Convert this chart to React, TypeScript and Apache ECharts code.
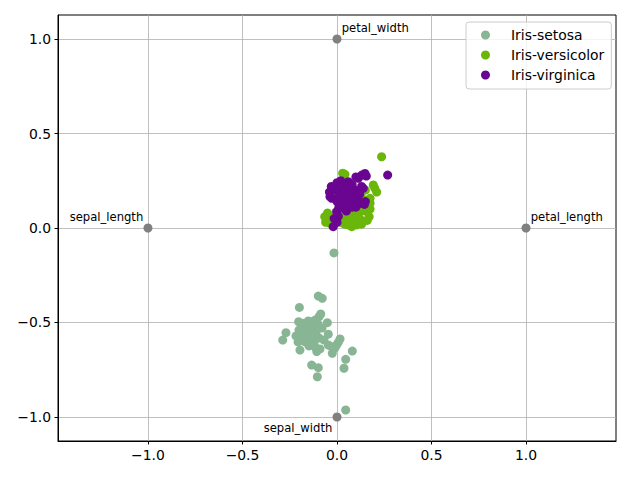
import { useEffect, useRef } from "react";
import * as echarts from "echarts";

const FONT = "DejaVu Sans";

// RadViz projection of the iris measurements
const speciesNames = ["Iris-setosa", "Iris-versicolor", "Iris-virginica"];
const speciesColors = ["#88b694", "#6ab70a", "#690590"];

const setosaPoints: number[][] = [
  [-0.016, -0.132], [-0.099, -0.36], [-0.078, -0.372], [-0.199, -0.42], [-0.086, -0.455],
  [-0.095, -0.469], [-0.051, -0.501], [-0.203, -0.496], [-0.178, -0.504], [-0.152, -0.492],
  [-0.134, -0.496], [-0.116, -0.487], [-0.27, -0.554], [-0.287, -0.593], [-0.046, -0.562],
  [0.016, -0.587], [0.007, -0.605], [-0.002, -0.619], [-0.028, -0.628], [-0.046, -0.619],
  [-0.011, -0.635], [0.081, -0.651], [0.046, -0.695], [0.037, -0.742], [-0.025, -0.663],
  [-0.196, -0.646], [-0.107, -0.654], [-0.09, -0.64], [-0.116, -0.63], [-0.134, -0.725],
  [-0.099, -0.739], [-0.104, -0.787], [0.046, -0.963], [-0.201, -0.54], [-0.185, -0.566],
  [-0.164, -0.529], [-0.148, -0.556], [-0.127, -0.529], [-0.111, -0.556], [-0.095, -0.582],
  [-0.132, -0.593], [-0.169, -0.603], [-0.206, -0.603], [-0.148, -0.624], [-0.079, -0.529],
  [-0.101, -0.508], [-0.217, -0.571], [-0.122, -0.608], [-0.069, -0.593], [-0.164, -0.582],
];

const versicolorPoints: number[][] = [
  [0.236, 0.377], [0.042, 0.284], [0.192, 0.228], [0.21, 0.19], [-0.037, 0.025],
  [-0.046, 0.042], [0.06, 0.016], [0.078, 0.007], [0.104, 0.016], [0.166, 0.095],
  [0.175, 0.131], [0.175, 0.157], [0.16, 0.085], [0.085, 0.03], [0.09, 0.06],
  [0.12, 0.05], [0.14, 0.11], [0.15, 0.145], [0.0, 0.08], [-0.01, 0.06],
  [-0.02, 0.045], [0.01, 0.1], [0.02, 0.13], [-0.011, 0.219], [0.05, 0.04],
  [0.07, 0.05], [0.11, 0.07], [0.13, 0.09], [0.04, 0.02], [0.1, 0.1],
  [0.06, 0.12], [0.08, 0.15], [0.05, 0.17], [0.12, 0.18], [0.15, 0.2],
  [0.03, 0.06], [0.07, 0.09], [0.1, 0.13], [0.13, 0.16], [0.02, 0.03],
  [-0.06, 0.03], [-0.065, 0.06], [-0.05, 0.08], [0.17, 0.06], [0.175, 0.1],
  [0.2, 0.21], [0.03, 0.29], [0.13, 0.02], [0.16, 0.04],
];

const virginicaPoints: number[][] = [
  [0.268, 0.28], [0.131, 0.28], [0.148, 0.289], [0.113, 0.263], [0.06, 0.245],
  [0.139, 0.21], [-0.028, 0.157], [-0.037, 0.166], [-0.02, 0.007], [0.007, 0.062],
  [-0.002, 0.087], [0.01, 0.11], [0.02, 0.14], [0.03, 0.18], [0.04, 0.2],
  [0.05, 0.15], [0.06, 0.12], [0.07, 0.17], [0.08, 0.19], [0.09, 0.14],
  [0.1, 0.11], [0.11, 0.16], [0.12, 0.13], [0.01, 0.17], [0.03, 0.12],
  [0.05, 0.09], [0.07, 0.13], [0.09, 0.17], [0.0, 0.14], [0.15, 0.14],
  [0.04, 0.1], [0.08, 0.11], [0.02, 0.2], [0.06, 0.21],
  [-0.03, 0.22], [0.0, 0.24], [0.02, 0.25], [0.04, 0.23], [0.08, 0.23],
  [0.1, 0.2], [0.12, 0.18], [-0.04, 0.19], [-0.01, 0.2], [0.145, 0.125],
  [0.0, 0.03], [-0.015, 0.05], [0.1, 0.27], [0.155, 0.275], [0.13, 0.22],
];

const anchorNames = ["petal_length", "petal_width", "sepal_length", "sepal_width"];
const anchorPoints: number[][] = [[1, 0], [0, 1], [-1, 0], [0, -1]];

const xRange = [-1.476, 1.476];
const yRange = [-1.127, 1.127];

const tickFormat = (v: number) => (v < 0 ? "\u2212" : "") + Math.abs(v).toFixed(1);

export default function App() {
  const ref = useRef<HTMLDivElement>(null);

  useEffect(() => {
    document.body.style.margin = "0";
    const chart = echarts.init(ref.current!, null, { renderer: "svg" });

    const axisCommon = {
      type: "value" as const,
      axisLine: { show: true, onZero: false, lineStyle: { color: "#000", width: 1 } },
      axisTick: { show: true, length: 3.5, lineStyle: { color: "#000", width: 1 } },
      axisLabel: {
        color: "#000",
        fontFamily: FONT,
        fontSize: 13.9,
        margin: 7,
        showMinLabel: false,
        showMaxLabel: false,
        formatter: tickFormat,
      },
      splitLine: {
        show: true,
        showMinLine: false,
        showMaxLine: false,
        lineStyle: { color: "#b0b0b0", width: 0.8 },
      },
    };

    const off = 9.2;
    const anchorData = anchorPoints.map((p, i) => {
      const right = p[0] > 0 || (p[0] === 0 && p[1] > 0);
      const below = p[1] < 0;
      return {
        value: p,
        name: anchorNames[i],
        label: {
          position: [right ? off : -0.2, below ? off : -0.2],
          align: right ? "left" : "right",
          verticalAlign: below ? "top" : "bottom",
        },
      };
    });

    const groups = [setosaPoints, versicolorPoints, virginicaPoints];

    chart.setOption({
      animation: false,
      backgroundColor: "#fff",
      textStyle: { fontFamily: FONT },
      grid: {
        left: 58,
        top: 15,
        width: 558,
        height: 426,
        show: true,
        borderColor: "#000",
        borderWidth: 1,
        backgroundColor: "transparent",
      },
      xAxis: { ...axisCommon, min: xRange[0], max: xRange[1], splitNumber: 6 },
      yAxis: { ...axisCommon, min: yRange[0], max: yRange[1], splitNumber: 5 },
      legend: {
        data: speciesNames,
        orient: "vertical",
        left: 466,
        top: 22,
        padding: [3, 7, 4, 15],
        itemGap: 0,
        itemWidth: 9,
        itemHeight: 9,
        icon: "circle",
        backgroundColor: "rgba(255,255,255,0.8)",
        borderColor: "#cccccc",
        borderWidth: 1,
        borderRadius: 3,
        formatter: (n: string) => `{t|${n}}`,
        textStyle: {
          fontFamily: FONT,
          fontSize: 13.9,
          color: "#000",
          lineHeight: 20,
          rich: {
            t: {
              fontFamily: FONT,
              fontSize: 13.9,
              color: "#000",
              lineHeight: 20,
              padding: [0, 0, 0, 16],
            },
          },
        },
      },
      series: [
        ...groups.map((pts, i) => ({
          type: "scatter",
          name: speciesNames[i],
          data: pts,
          symbol: "circle",
          symbolSize: 9,
          itemStyle: { color: speciesColors[i], opacity: 1 },
          z: 2 + i,
        })),
        {
          type: "scatter",
          name: "anchors",
          data: anchorData,
          symbol: "circle",
          symbolSize: 9,
          itemStyle: { color: "#808080", opacity: 1 },
          z: 6,
          label: {
            show: true,
            formatter: (p: any) => p.name,
            fontFamily: FONT,
            fontSize: 11.6,
            color: "#000",
          },
        },
      ],
    });

    return () => chart.dispose();
  }, []);

  return (
    <div
      ref={ref}
      style={{ position: "absolute", left: 0, top: 0, width: 640, height: 480 }}
    />
  );
}
